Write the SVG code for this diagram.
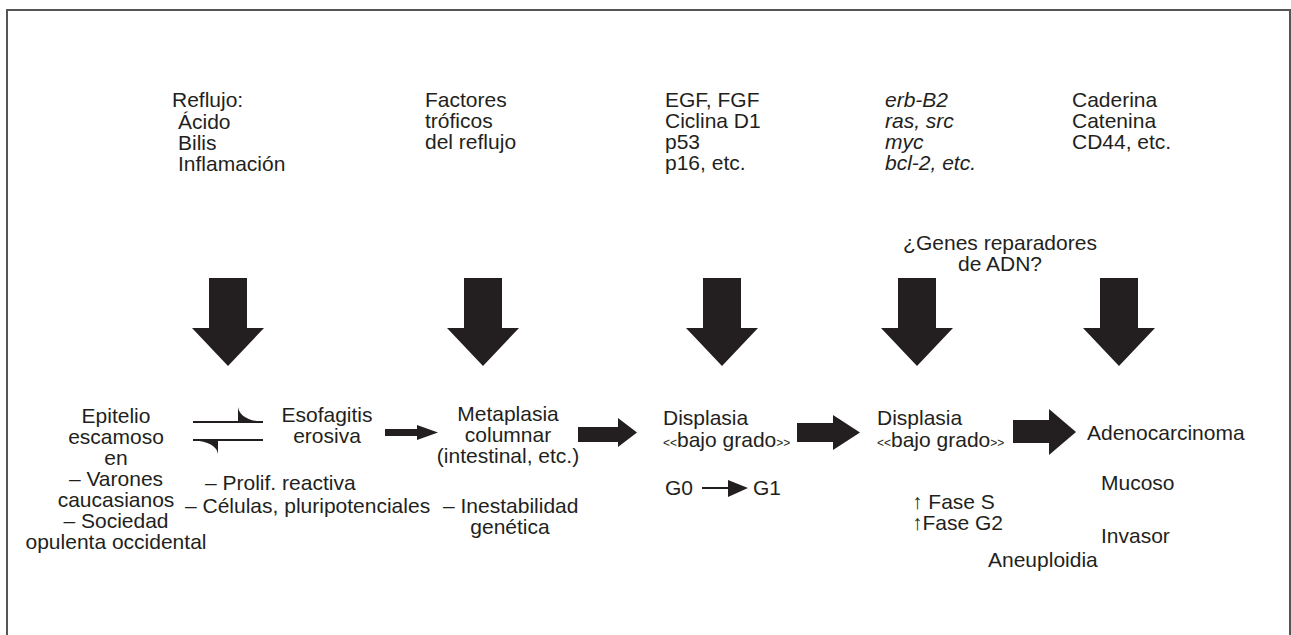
<svg xmlns="http://www.w3.org/2000/svg" width="1291" height="635" viewBox="0 0 1291 635">
<style>
text{font-family:"Liberation Sans",Arial,sans-serif;font-size:21px;fill:#231f20}
.c{text-anchor:middle}
.i{font-style:italic}
.s{font-size:12px}
.ar{fill:#231f20}
.ln{stroke:#231f20;stroke-width:2;fill:none}
</style>
<defs>
<path id="down" d="M-19,0 H19 V50 H36 L0,88 L-36,50 H-19 Z"/>
</defs>
<rect x="7" y="10" width="1283" height="640" fill="#fff" stroke="#555" stroke-width="2"/>

<g id="top-reflujo">
<text x="172" y="107">Reflujo:</text>
<text x="178" y="129">Ácido</text>
<text x="178" y="150">Bilis</text>
<text x="178" y="171">Inflamación</text>
</g>
<g id="top-factores">
<text x="425" y="107">Factores</text>
<text x="425" y="128">tróficos</text>
<text x="425" y="149">del reflujo</text>
</g>
<g id="top-egf">
<text x="665" y="107">EGF, FGF</text>
<text x="665" y="128">Ciclina D1</text>
<text x="665" y="149">p53</text>
<text x="665" y="170">p16, etc.</text>
</g>
<g id="top-onco">
<text class="i" x="885" y="107">erb-B2</text>
<text class="i" x="885" y="128">ras, src</text>
<text class="i" x="885" y="149">myc</text>
<text class="i" x="885" y="170">bcl-2, etc.</text>
</g>
<g id="top-cad">
<text x="1072" y="107">Caderina</text>
<text x="1072" y="128">Catenina</text>
<text x="1072" y="149">CD44, etc.</text>
</g>
<g id="top-genes">
<text class="c" x="1000" y="250">¿Genes reparadores</text>
<text class="c" x="1000" y="271">de ADN?</text>
</g>

<g id="epitelio">
<text class="c" x="116" y="423">Epitelio</text>
<text class="c" x="116" y="444">escamoso</text>
<text class="c" x="116" y="465">en</text>
<text class="c" x="116" y="486">– Varones</text>
<text class="c" x="116" y="507">caucasianos</text>
<text class="c" x="116" y="528">– Sociedad</text>
<text class="c" x="116" y="549">opulenta occidental</text>
</g>
<g id="esofagitis">
<text class="c" x="327" y="422">Esofagitis</text>
<text class="c" x="327" y="443">erosiva</text>
<text x="205" y="490">– Prolif. reactiva</text>
<text x="185" y="513">– Células, pluripotenciales</text>
</g>
<g id="metaplasia">
<text class="c" x="508" y="421">Metaplasia</text>
<text class="c" x="508" y="442">columnar</text>
<text class="c" x="508" y="463">(intestinal, etc.)</text>
<text x="443" y="513">– Inestabilidad</text>
<text class="c" x="510" y="534">genética</text>
</g>
<g id="displasia1">
<text x="663" y="425">Displasia</text>
<text x="663" y="447"><tspan class="s">&lt;&lt;</tspan>bajo grado<tspan class="s">&gt;&gt;</tspan></text>
<text x="665" y="495">G0</text>
<text x="753" y="495">G1</text>
</g>
<g id="displasia2">
<text x="877" y="425">Displasia</text>
<text x="877" y="447"><tspan class="s">&lt;&lt;</tspan>bajo grado<tspan class="s">&gt;&gt;</tspan></text>
<text x="912" y="509">↑ Fase S</text>
<text x="912" y="530">↑Fase G2</text>
<text x="988" y="567">Aneuploidia</text>
</g>
<g id="adenocarcinoma">
<text x="1087" y="440">Adenocarcinoma</text>
<text x="1101" y="490">Mucoso</text>
<text x="1101" y="543">Invasor</text>
</g>

<g id="connectors">
<use href="#down" class="ar" x="228" y="278"/>
<use href="#down" class="ar" x="483" y="278"/>
<use href="#down" class="ar" x="722" y="278"/>
<use href="#down" class="ar" x="917" y="278"/>
<use href="#down" class="ar" x="1119" y="278"/>
<path class="ln" d="M193,422 H263"/>
<path class="ar" d="M238,407 Q240,420 263,422 L238,423 Z"/>
<path class="ln" d="M193,440 H263"/>
<path class="ar" d="M193,440 L218,439 L218,454 Q216,442 193,440 Z"/>
<path class="ar" d="M385,429 H417 V425 L438,432.5 L417,440 V436 H385 Z"/>
<path class="ar" d="M578,427 H618 V418 L637,432.5 L618,447 V442 H578 Z"/>
<path class="ar" d="M797,423 H833 V415 L860,432.5 L833,450 V442 H797 Z"/>
<path class="ar" d="M1013,420 H1049 V409 L1076,432 L1049,455 V443 H1013 Z"/>
<path class="ln" d="M702,488 H730" stroke-width="1.5"/>
<path class="ar" d="M728,480 L748,488 L728,497 Z"/>
</g>
</svg>
